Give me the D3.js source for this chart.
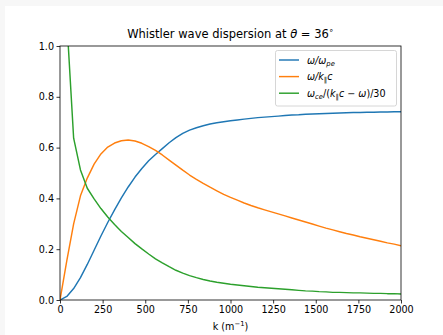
<!DOCTYPE html>
<html><head><meta charset="utf-8">
<script src="https://cdn.jsdelivr.net/npm/d3@7"></script>
<style>
html,body{margin:0;padding:0;background:#f7f7f7;}
svg{display:block;}
text{font-family:"DejaVu Sans",sans-serif;fill:#000;}
</style></head>
<body><svg id="c" width="443" height="335"></svg>
<script>
const kValues = d3.range(0, 2001, 40);
const omegaOverOmegaPe = [0,0.014,0.045,0.088,0.140,0.196,0.252,0.305,0.355,0.402,0.445,0.484,0.518,0.548,0.573,0.596,0.619,0.639,0.656,0.669,0.678,0.686,0.693,0.698,0.702,0.706,0.709,0.712,0.715,0.718,0.720,0.722,0.724,0.726,0.728,0.729,0.731,0.732,0.733,0.734,0.735,0.736,0.737,0.738,0.738,0.739,0.739,0.740,0.740,0.741,0.741];
const omegaOverKc = [0,0.155,0.30,0.41,0.48,0.535,0.575,0.602,0.618,0.627,0.63,0.626,0.617,0.604,0.589,0.571,0.551,0.531,0.511,0.492,0.475,0.459,0.444,0.43,0.416,0.404,0.393,0.382,0.372,0.363,0.355,0.347,0.339,0.331,0.323,0.315,0.307,0.299,0.291,0.283,0.276,0.269,0.262,0.256,0.249,0.243,0.237,0.231,0.225,0.220,0.214];
const omegaCeRatio = [null,1.10,0.637,0.512,0.44,0.398,0.36,0.327,0.297,0.27,0.246,0.222,0.201,0.181,0.162,0.146,0.131,0.117,0.106,0.096,0.088,0.081,0.075,0.07,0.066,0.062,0.059,0.056,0.053,0.05,0.048,0.046,0.044,0.042,0.040,0.038,0.036,0.035,0.033,0.032,0.030,0.030,0.029,0.028,0.028,0.027,0.026,0.026,0.025,0.025,0.024];
const xTicks = [0,250,500,750,1000,1250,1500,1750,2000];
const yTicks = [0,0.2,0.4,0.6,0.8,1.0];
const colors = ["#1f77b4","#ff7f0e","#2ca02c"];

const svg = d3.select("#c");
svg.append("rect").attr("x",5).attr("y",6).attr("width",438).attr("height",329).attr("fill","#fff");

const L=60,R=401,T=46,B=300;
const x = d3.scaleLinear().domain([0,2000]).range([L,R]);
const y = d3.scaleLinear().domain([0,1]).range([B,T]);

svg.append("clipPath").attr("id","clip").append("rect").attr("x",L).attr("y",T).attr("width",R-L).attr("height",B-T);

const series=[omegaOverOmegaPe,omegaOverKc,omegaCeRatio];
const line = d3.line().defined(d=>d[1]!=null).x(d=>x(d[0])).y(d=>y(d[1]));
const g = svg.append("g").attr("clip-path","url(#clip)");
series.forEach((s,i)=>{
  g.append("path").datum(kValues.map((k,j)=>[k,s[j]]))
   .attr("d",line).attr("fill","none").attr("stroke",colors[i]).attr("stroke-width",1.45)
   .attr("stroke-linejoin","round").attr("stroke-linecap","square");
});

// axes
const xa = svg.append("g").attr("transform",`translate(0,${B})`)
  .call(d3.axisBottom(x).tickValues(xTicks).tickFormat(d3.format("d")).tickSize(3.5).tickPadding(2.5));
const ya = svg.append("g").attr("transform",`translate(${L},0)`)
  .call(d3.axisLeft(y).tickValues(yTicks).tickFormat(d3.format(".1f")).tickSize(3.5).tickPadding(2.5));
[xa,ya].forEach(a=>{
  a.select(".domain").remove();
  a.selectAll(".tick line").attr("stroke","#000").attr("stroke-width",0.8);
  a.selectAll(".tick text").attr("font-size","9.6px").attr("fill","#000");
});
svg.append("rect").attr("x",L).attr("y",T).attr("width",R-L).attr("height",B-T)
  .attr("fill","none").attr("stroke","#000").attr("stroke-width",0.8);

// title
const t = svg.append("text").attr("x",(L+R)/2).attr("y",38).attr("text-anchor","middle").attr("font-size","11.5px");
t.append("tspan").text("Whistler wave dispersion at ");
t.append("tspan").attr("font-style","italic").text("θ");
t.append("tspan").text(" = 36");
t.append("tspan").attr("font-size","8px").attr("dy","-5").text("∘");

// x label
const xl = svg.append("text").attr("x",(L+R)/2).attr("y",330).attr("text-anchor","middle").attr("font-size","9.6px");
xl.append("tspan").text("k (m");
xl.append("tspan").attr("font-size","6.8px").attr("dy","-4").text("−1");
xl.append("tspan").attr("dy","4").text(")");

// legend
const lg = svg.append("g");
lg.append("rect").attr("x",275.5).attr("y",50.5).attr("width",121).attr("height",55.5).attr("rx",2)
  .attr("fill","#fff").attr("fill-opacity",0.8).attr("stroke","#cccccc").attr("stroke-width",0.8);
const rowsY=[60,76.6,93.2];
rowsY.forEach((ry,i)=>{
  lg.append("line").attr("x1",279).attr("x2",299).attr("y1",ry).attr("y2",ry)
    .attr("stroke",colors[i]).attr("stroke-width",1.45);
});
function lt(i){return lg.append("text").attr("x",307).attr("y",rowsY[i]+3.5).attr("font-size","9.6px");}
let a=lt(0);
a.append("tspan").attr("font-style","italic").text("ω/ω");
a.append("tspan").attr("font-style","italic").attr("font-size","6.8px").attr("dy","2").text("pe");
let b=lt(1);
b.append("tspan").attr("font-style","italic").text("ω/k");
b.append("tspan").attr("font-size","6.8px").attr("dy","2").text("∥");
b.append("tspan").attr("font-style","italic").attr("dy","-2").text("c");
let c=lt(2);
c.append("tspan").attr("font-style","italic").text("ω");
c.append("tspan").attr("font-style","italic").attr("font-size","6.8px").attr("dy","2").text("ce");
c.append("tspan").attr("dy","-2").text("/(");
c.append("tspan").attr("font-style","italic").text("k");
c.append("tspan").attr("font-size","6.8px").attr("dy","2").text("∥");
c.append("tspan").attr("font-style","italic").attr("dy","-2").text("c");
c.append("tspan").text(" − ");
c.append("tspan").attr("font-style","italic").text("ω");
c.append("tspan").text(")/30");
</script></body></html>
